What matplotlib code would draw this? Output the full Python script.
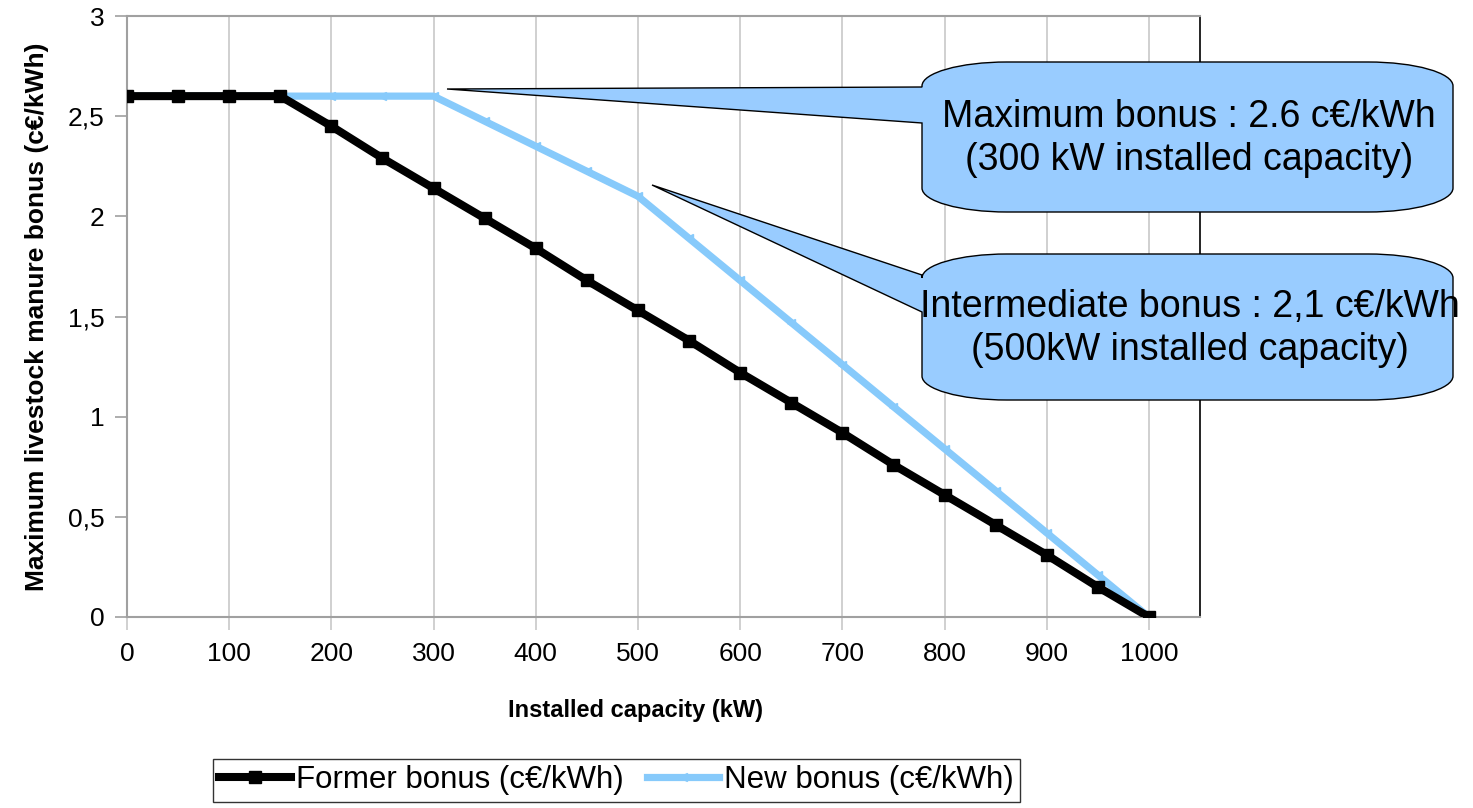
import matplotlib
matplotlib.use("Agg")
import matplotlib.pyplot as plt
from matplotlib.path import Path
from matplotlib.patches import PathPatch
from matplotlib.ticker import FuncFormatter

plt.rcParams["font.family"] = ["Liberation Sans", "DejaVu Sans"]

# installed capacity (kW)
capacity = [0, 50, 100, 150, 200, 250, 300, 350, 400, 450, 500,
            550, 600, 650, 700, 750, 800, 850, 900, 950, 1000]
former_bonus = [2.6, 2.6, 2.6, 2.6, 2.45, 2.29, 2.14, 1.99, 1.84, 1.68, 1.53,
                1.38, 1.22, 1.07, 0.92, 0.76, 0.61, 0.46, 0.31, 0.15, 0.0]
new_bonus = [2.6, 2.6, 2.6, 2.6, 2.6, 2.6, 2.6, 2.475, 2.35, 2.225, 2.1,
             1.89, 1.68, 1.47, 1.26, 1.05, 0.84, 0.63, 0.42, 0.21, 0.0]

callout_max = ["Maximum bonus : 2.6 c€/kWh", "(300 kW installed capacity)"]
callout_mid = ["Intermediate bonus : 2,1 c€/kWh", "(500kW installed capacity)"]

W, H = 1473, 808
fig = plt.figure(figsize=(W / 100, H / 100), dpi=100)
ax = fig.add_axes([127 / W, 1 - 617 / H, (1200 - 127) / W, (617 - 16) / H])

ax.plot(capacity, new_bonus, color="#87cafb", lw=5.2, marker="<", ms=6,
        label="New bonus (c€/kWh)", zorder=3)
ax.plot(capacity, former_bonus, color="black", lw=5.8, marker="s", ms=8,
        label="Former bonus (c€/kWh)", zorder=4)

ax.set_xlim(0, 1050)
ax.set_ylim(0, 3)
ax.set_xticks(range(0, 1001, 100))
ax.set_yticks([0, 0.5, 1, 1.5, 2, 2.5, 3])
ax.yaxis.set_major_formatter(FuncFormatter(lambda v, p: f"{v:g}".replace(".", ",")))
ax.grid(axis="x", color="#c8c8c8", lw=1.2)
ax.set_axisbelow(True)
ax.tick_params(axis="both", colors="#a0a0a0", labelcolor="black", labelsize=19,
               length=9, width=1.2)
ax.tick_params(axis="x", pad=9, colors="#c8c8c8", labelcolor="black")
ax.tick_params(axis="y", pad=7)
for s in ("left", "bottom", "top"):
    ax.spines[s].set_color("#a0a0a0")
    ax.spines[s].set_linewidth(1.5)
ax.spines["right"].set_color("black")
ax.spines["right"].set_linewidth(1.2)

ax.set_xlabel("Installed capacity (kW)", fontsize=17, fontweight="bold",
              labelpad=24, x=0.474)
ax.set_ylabel("Maximum livestock manure bonus (c€/kWh)", fontsize=19,
              fontweight="bold", labelpad=14)

h, l = ax.get_legend_handles_labels()
leg = fig.legend(h[::-1], l[::-1], loc="upper left",
                 bbox_to_anchor=(213 / W, 1 - 759 / H), ncol=2, fontsize=22.5,
                 frameon=True, fancybox=False, edgecolor="black",
                 handlelength=2.3, handletextpad=0.15, columnspacing=0.75,
                 borderpad=0.2, borderaxespad=0)
leg.get_frame().set_linewidth(1.0)

# overlay in pixel coordinates for the callouts
ov = fig.add_axes([0, 0, 1, 1], zorder=10)
ov.set_xlim(0, W)
ov.set_ylim(H, 0)
ov.axis("off")


def callout(x0, x1, y0, y1, tip, a_top, a_bot, rx=85, ry=24):
    k = 0.5523
    verts = [tip, (x0, a_top), (x0, y0 + ry),
             (x0, y0 + ry * (1 - k)), (x0 + rx * (1 - k), y0), (x0 + rx, y0),
             (x1 - rx, y0),
             (x1 - rx * (1 - k), y0), (x1, y0 + ry * (1 - k)), (x1, y0 + ry),
             (x1, y1 - ry),
             (x1, y1 - ry * (1 - k)), (x1 - rx * (1 - k), y1), (x1 - rx, y1),
             (x0 + rx, y1),
             (x0 + rx * (1 - k), y1), (x0, y1 - ry * (1 - k)), (x0, y1 - ry),
             (x0, a_bot), tip]
    codes = [Path.MOVETO, Path.LINETO, Path.LINETO,
             Path.CURVE4, Path.CURVE4, Path.CURVE4,
             Path.LINETO,
             Path.CURVE4, Path.CURVE4, Path.CURVE4,
             Path.LINETO,
             Path.CURVE4, Path.CURVE4, Path.CURVE4,
             Path.LINETO,
             Path.CURVE4, Path.CURVE4, Path.CURVE4,
             Path.LINETO, Path.CLOSEPOLY]
    ov.add_patch(PathPatch(Path(verts, codes), facecolor="#99ccff",
                           edgecolor="black", lw=1.0))


callout(922, 1453, 62, 212, (447, 89), 87, 123)
callout(922, 1453, 254, 400, (652, 185), 275, 312)

ov.text(1189, 117, callout_max[0], fontsize=27, ha="center", va="center")
ov.text(1189, 160, callout_max[1], fontsize=27, ha="center", va="center")
ov.text(1190, 307, callout_mid[0], fontsize=27, ha="center", va="center")
ov.text(1190, 350, callout_mid[1], fontsize=27, ha="center", va="center")

fig.savefig("out.png", dpi=100)
